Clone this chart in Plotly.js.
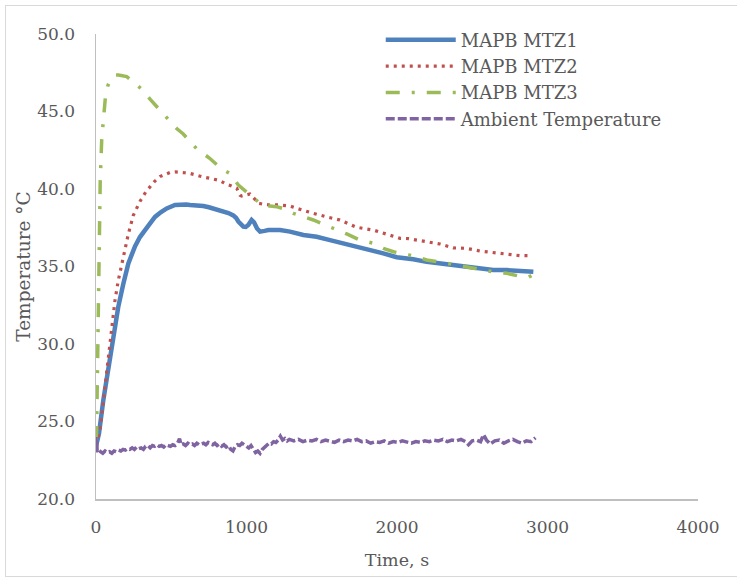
<!DOCTYPE html>
<html>
<head>
<meta charset="utf-8">
<script src="https://cdn.plot.ly/plotly-3.0.1.min.js"></script>
<style>
  html, body { margin: 0; padding: 0; background: #ffffff; }
  #wrap { position: relative; width: 737px; height: 580px; overflow: hidden; }
  #chart { position: absolute; left: 0; top: 0; width: 737px; height: 580px; }
  #frame { position: absolute; left: 5px; top: 5px; width: 735px; height: 572px;
           border: 1px solid #d9d9d9; box-sizing: border-box; pointer-events: none; }
</style>
</head>
<body>
<div id="wrap">
  <div id="chart"></div>
  <div id="frame"></div>
</div>
<script>
// ---- data ----
const seriesNames = ["MAPB MTZ1", "MAPB MTZ2", "MAPB MTZ3", "Ambient Temperature"];

const tMTZ1 = [0, 20, 49, 82, 115, 148, 182, 215, 259, 292, 326, 359, 392, 430, 470, 525, 558, 600, 625, 670, 713, 750, 779, 815, 846, 880, 912, 930, 946, 965, 979, 995, 1012, 1034, 1050, 1070, 1090, 1120, 1145, 1223, 1289, 1378, 1466, 1555, 1643, 1732, 1821, 1909, 1998, 2075, 2108, 2197, 2286, 2374, 2463, 2551, 2640, 2729, 2817, 2906];
const vMTZ1 = [23.4, 24.24, 26.4, 28.5, 30.7, 32.4, 33.9, 35.2, 36.3, 36.9, 37.35, 37.8, 38.2, 38.5, 38.75, 38.97, 39.0, 39.0, 38.97, 38.95, 38.9, 38.82, 38.75, 38.65, 38.54, 38.45, 38.3, 38.15, 37.9, 37.7, 37.57, 37.55, 37.68, 38.0, 37.85, 37.45, 37.25, 37.3, 37.35, 37.35, 37.25, 37.03, 36.92, 36.7, 36.5, 36.28, 36.06, 35.85, 35.6, 35.53, 35.47, 35.3, 35.2, 35.1, 35.0, 34.88, 34.77, 34.77, 34.72, 34.66];

const tMTZ2 = [0, 10, 27, 45, 60, 82, 104, 126, 148, 182, 215, 248, 292, 330, 359, 390, 425, 460, 492, 525, 558, 590, 625, 660, 691, 724, 757, 790, 824, 850, 868, 900, 935, 957, 968, 990, 1012, 1023, 1050, 1078, 1120, 1156, 1223, 1289, 1334, 1378, 1444, 1533, 1621, 1680, 1732, 1843, 1932, 2020, 2075, 2108, 2197, 2286, 2374, 2463, 2551, 2640, 2729, 2817, 2895];
const vMTZ2 = [23.5, 23.9, 24.45, 26.0, 27.25, 29.4, 31.3, 32.8, 34.1, 35.6, 37.1, 38.3, 39.2, 39.8, 40.15, 40.5, 40.8, 40.95, 41.07, 41.1, 41.1, 41.05, 41.0, 40.9, 40.84, 40.75, 40.69, 40.6, 40.54, 40.4, 40.3, 40.2, 40.05, 39.6, 39.55, 39.6, 39.68, 39.68, 39.4, 39.08, 39.0, 38.97, 38.97, 38.9, 38.75, 38.6, 38.43, 38.2, 38.0, 37.75, 37.53, 37.35, 37.1, 36.82, 36.8, 36.75, 36.6, 36.45, 36.2, 36.17, 36.0, 35.9, 35.85, 35.7, 35.7];

const tMTZ3 = [0, 4, 8, 12, 16, 20, 22, 28, 38, 49, 64, 80, 93, 110, 126, 150, 175, 204, 230, 259, 315, 359, 421, 470, 536, 580, 669, 753, 835, 890, 946, 1001, 1056, 1112, 1156, 1200, 1255, 1311, 1444, 1555, 1666, 1754, 1843, 1909, 1976, 2076, 2131, 2197, 2286, 2363, 2430, 2496, 2585, 2651, 2729, 2806, 2873, 2900];
const vMTZ3 = [23.8, 24.3, 27.0, 30.0, 33.0, 35.8, 37.25, 40.5, 43.2, 44.7, 46.1, 46.7, 47.0, 47.2, 47.35, 47.35, 47.3, 47.25, 47.05, 46.8, 46.35, 45.8, 45.1, 44.6, 43.9, 43.55, 42.6, 42.0, 41.3, 41.0, 40.25, 39.8, 39.4, 38.9, 38.9, 38.86, 38.7, 38.43, 38.0, 37.57, 37.1, 36.7, 36.5, 36.17, 35.95, 35.75, 35.63, 35.42, 35.3, 35.16, 35.03, 34.92, 34.73, 34.63, 34.56, 34.39, 34.3, 34.45];

const tAmb = [0, 2, 5, 8, 15, 30, 45, 60, 75, 90, 105, 120, 135, 150, 165, 180, 195, 210, 225, 240, 255, 270, 285, 300, 315, 330, 345, 360, 375, 390, 405, 420, 435, 450, 465, 480, 495, 510, 525, 540, 555, 565, 580, 595, 610, 625, 640, 655, 670, 685, 700, 715, 730, 745, 760, 775, 790, 805, 820, 835, 850, 865, 880, 895, 910, 925, 940, 955, 970, 985, 1000, 1015, 1030, 1045, 1060, 1075, 1090, 1105, 1120, 1135, 1150, 1165, 1180, 1195, 1210, 1225, 1240, 1255, 1270, 1285, 1315, 1345, 1375, 1405, 1435, 1465, 1495, 1525, 1555, 1585, 1615, 1645, 1675, 1705, 1735, 1765, 1795, 1825, 1855, 1885, 1915, 1945, 1975, 2005, 2035, 2065, 2095, 2125, 2155, 2185, 2215, 2245, 2275, 2305, 2335, 2365, 2395, 2425, 2455, 2475, 2500, 2530, 2555, 2575, 2595, 2620, 2650, 2680, 2710, 2740, 2770, 2800, 2830, 2860, 2890, 2920];
const vAmb = [24.0, 23.0, 23.6, 23.1, 23.2, 23.05, 22.95, 23.1, 23.0, 23.05, 22.95, 23.1, 23.05, 23.15, 23.1, 23.2, 23.15, 23.25, 23.2, 23.3, 23.2, 23.35, 23.25, 23.3, 23.2, 23.4, 23.45, 23.3, 23.45, 23.4, 23.5, 23.4, 23.45, 23.35, 23.5, 23.45, 23.4, 23.5, 23.45, 23.55, 23.9, 23.5, 23.55, 23.45, 23.6, 23.5, 23.55, 23.45, 23.6, 23.5, 23.55, 23.6, 23.5, 23.65, 23.55, 23.5, 23.6, 23.45, 23.55, 23.4, 23.5, 23.35, 23.45, 23.2, 23.1, 23.4, 23.5, 23.45, 23.6, 23.5, 23.35, 23.3, 23.45, 23.2, 23.0, 23.1, 22.95, 23.2, 23.35, 23.45, 23.6, 23.55, 23.7, 23.65, 23.8, 24.05, 23.8, 23.9, 23.75, 23.85, 23.75, 23.85, 23.7, 23.8, 23.75, 23.85, 23.7, 23.8, 23.75, 23.65, 23.8, 23.7, 23.8, 23.75, 23.85, 23.7, 23.75, 23.6, 23.7, 23.65, 23.75, 23.6, 23.7, 23.65, 23.75, 23.7, 23.6, 23.7, 23.65, 23.75, 23.7, 23.8, 23.75, 23.85, 23.7, 23.8, 23.75, 23.85, 23.7, 23.5, 23.75, 23.8, 23.7, 24.15, 23.8, 23.55, 23.75, 23.8, 23.6, 23.75, 23.85, 23.7, 23.6, 23.75, 23.7, 23.95];

const xTickVals = [0, 1000, 2000, 3000, 4000];
const xTickText = ["0", "1000", "2000", "3000", "4000"];
const yTickVals = [20, 25, 30, 35, 40, 45, 50];
const yTickText = ["20.0", "25.0", "30.0", "35.0", "40.0", "45.0", "50.0"];

const FONT = "DejaVu Serif, Liberation Serif, serif";
const GREY = "#595959";

const traces = [
  { x: tMTZ1, y: vMTZ1, name: seriesNames[0], mode: "lines",
    line: { color: "#4F81BD", width: 4.5 } },
  { x: tMTZ2, y: vMTZ2, name: seriesNames[1], mode: "lines",
    line: { color: "#C0504D", width: 3.2, dash: "3px,5px" } },
  { x: tMTZ3, y: vMTZ3, name: seriesNames[2], mode: "lines",
    line: { color: "#9BBB59", width: 3.5, dash: "14px,12px,3px,12px" } },
  { x: tAmb, y: vAmb, name: seriesNames[3], mode: "lines",
    line: { color: "#8064A2", width: 3.5, dash: "9px,3px" } }
];

const layout = {
  width: 737, height: 580,
  margin: { l: 96, r: 39, t: 34, b: 81, pad: 0 },
  paper_bgcolor: "#ffffff", plot_bgcolor: "#ffffff",
  font: { family: FONT, size: 17, color: GREY },
  showlegend: true,
  legend: {
    x: 0.473, y: 1.027, xanchor: "left", yanchor: "top",
    bgcolor: "rgba(0,0,0,0)", borderwidth: 0,
    font: { family: FONT, size: 18, color: GREY },
    itemwidth: 70, tracegroupgap: 0
  },
  xaxis: {
    range: [0, 4000], tickvals: xTickVals, ticktext: xTickText,
    showgrid: false, zeroline: false, showline: true, linecolor: "#bfbfbf", linewidth: 1.5,
    ticks: "", ticklabelstandoff: 12,
    tickfont: { family: FONT, size: 17, color: GREY },
    title: { text: "Time, s", font: { family: FONT, size: 17.5, color: GREY }, standoff: 18 },
    fixedrange: true
  },
  yaxis: {
    range: [20, 50], tickvals: yTickVals, ticktext: yTickText,
    showgrid: false, zeroline: false, showline: true, linecolor: "#bfbfbf", linewidth: 1.5,
    ticks: "", ticklabelstandoff: 16,
    tickfont: { family: FONT, size: 17, color: GREY },
    title: { text: "Temperature °C", font: { family: FONT, size: 18.5, color: GREY }, standoff: 2 },
    fixedrange: true
  }
};

Plotly.newPlot("chart", traces, layout, { staticPlot: true, displayModeBar: false });
</script>
</body>
</html>
